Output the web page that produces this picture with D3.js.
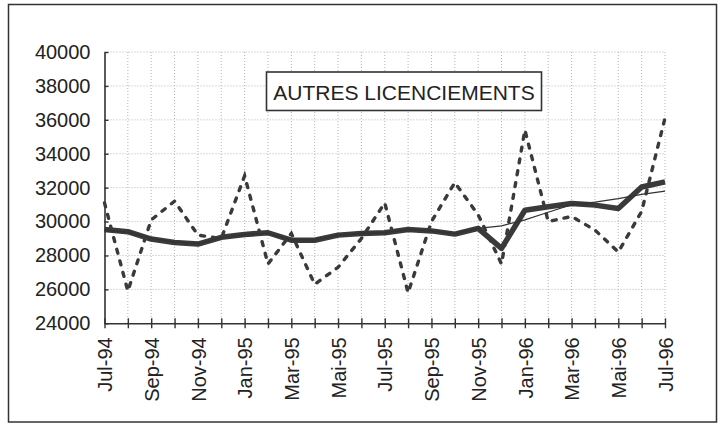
<!DOCTYPE html>
<html><head><meta charset="utf-8">
<script src="https://cdn.jsdelivr.net/npm/d3@7"></script>
<style>body{margin:0;background:#fff;}svg{display:block;}</style>
</head><body>
<script>
const months = ["Jul-94","Aug-94","Sep-94","Oct-94","Nov-94","Dec-94","Jan-95","Feb-95","Mar-95","Apr-95","May-95","Jun-95","Jul-95","Aug-95","Sep-95","Oct-95","Nov-95","Dec-95","Jan-96","Feb-96","Mar-96","Apr-96","May-96","Jun-96","Jul-96"];
const tickLabels = ["Jul-94","Sep-94","Nov-94","Jan-95","Mar-95","Mai-95","Jul-95","Sep-95","Nov-95","Jan-96","Mar-96","Mai-96","Jul-96"];
const rawValues = [31100,25900,30100,31200,29200,29000,32700,27500,29300,26300,27300,29000,31100,25800,30000,32300,30400,27500,35400,30000,30300,29500,28200,30600,36100];
const smoothValues = [29530,29400,28970,28770,28670,29070,29240,29340,28900,28900,29200,29300,29340,29530,29450,29260,29600,28420,30670,30870,31070,30970,30770,32040,32340];
const trendValues = [29500,29380,29000,28800,28700,29050,29230,29320,28920,28920,29200,29300,29350,29520,29450,29300,29600,29750,30100,30550,31000,31150,31350,31600,31800];
const yTicks = [24000,26000,28000,30000,32000,34000,36000,38000,40000];
const title = "AUTRES LICENCIEMENTS";

const W = 723, H = 425;
const pLeft = 104.5, pRight = 665, pTop = 52, pBottom = 323.3;
const svg = d3.select("body").append("svg").attr("width", W).attr("height", H);

svg.append("rect").attr("x", 8.5).attr("y", 4.5).attr("width", 708).attr("height", 417.5)
  .attr("fill", "#fff").attr("stroke", "#333").attr("stroke-width", 1.5);

const x = d3.scalePoint().domain(months).range([pLeft, pRight]);
const y = d3.scaleLinear().domain([24000, 40000]).range([pBottom, pTop]);
const font = "'Liberation Sans', Arial, sans-serif";

// grid
const g = svg.append("g");
g.selectAll(".hg").data(yTicks.slice(1)).join("line")
  .attr("x1", pLeft).attr("x2", pRight).attr("y1", d => y(d)).attr("y2", d => y(d))
  .attr("stroke", "#b5b5b5").attr("stroke-width", 1).attr("stroke-dasharray", "1,2");
g.selectAll(".vg").data(months.slice(1)).join("line")
  .attr("x1", d => x(d)).attr("x2", d => x(d)).attr("y1", pTop).attr("y2", pBottom)
  .attr("stroke", "#b5b5b5").attr("stroke-width", 1).attr("stroke-dasharray", "1,2");

// axes
const yAxis = d3.axisLeft(y).tickValues(yTicks).tickFormat(d3.format("d")).tickSizeInner(4).tickSizeOuter(0).tickPadding(10);
const ya = svg.append("g").attr("transform", `translate(${pLeft},0)`).call(yAxis);
ya.selectAll(".tick line").attr("x2", 4);
ya.selectAll("text").attr("font-family", font).attr("font-size", 20).attr("fill", "#222").attr("x", -14);
ya.select(".domain").attr("stroke", "#333").attr("stroke-width", 1.6);
ya.selectAll(".tick line").attr("stroke", "#333").attr("stroke-width", 1.4);

const xAxis = d3.axisBottom(x).tickSizeInner(5).tickSizeOuter(0)
  .tickFormat((d, i) => i % 2 === 0 ? tickLabels[i / 2] : "");
const xa = svg.append("g").attr("transform", `translate(0,${pBottom})`).call(xAxis);
xa.selectAll(".tick line").attr("y1", -5).attr("stroke", "#333").attr("stroke-width", 1.4);
xa.select(".domain").attr("stroke", "#333").attr("stroke-width", 1.6);
xa.selectAll("text").attr("font-family", font).attr("font-size", 20).attr("fill", "#222")
  .attr("transform", "rotate(-90)").attr("text-anchor", "end").attr("x", -14).attr("y", 0).attr("dy", "0.36em");

// lines
const line = d3.line().x((d, i) => x(months[i])).y(d => y(d));
svg.append("path").datum(rawValues).attr("d", line).attr("fill", "none")
  .attr("stroke", "#3a3a3a").attr("stroke-width", 3.4).attr("stroke-dasharray", "4,8")
  .attr("stroke-linecap", "round");
svg.append("path").datum(smoothValues).attr("d", line).attr("fill", "none")
  .attr("stroke", "#3a3a3a").attr("stroke-width", 5.5).attr("stroke-linejoin", "round");
svg.append("path").datum(trendValues).attr("d", line).attr("fill", "none")
  .attr("stroke", "#333").attr("stroke-width", 1.2);

// title
svg.append("rect").attr("x", 266.5).attr("y", 72).attr("width", 275).attr("height", 38.5)
  .attr("fill", "#fff").attr("stroke", "#333").attr("stroke-width", 1.6);
svg.append("text").attr("x", 404).attr("y", 100).attr("text-anchor", "middle")
  .attr("font-family", font).attr("font-size", 21).attr("fill", "#222").text(title);
</script>
</body></html>
